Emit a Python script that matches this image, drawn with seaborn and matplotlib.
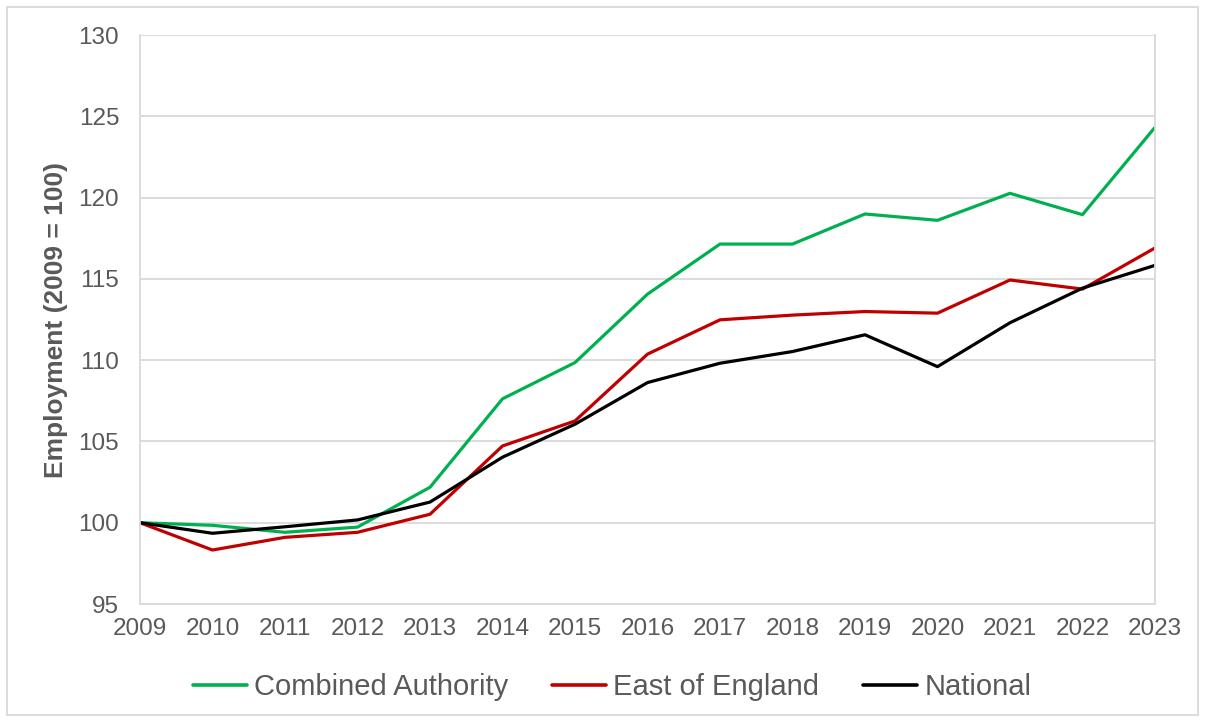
import matplotlib
matplotlib.use("Agg")
import matplotlib.pyplot as plt
import seaborn as sns
import pandas as pd
from matplotlib.patches import Rectangle
from matplotlib.lines import Line2D

years = list(range(2009, 2024))
combined_authority = [100.0, 99.84, 99.41, 99.73, 102.18, 107.62, 109.85, 114.06, 117.14, 117.14,
                      118.99, 118.6, 120.26, 118.95, 124.32]
east_of_england = [100.0, 98.32, 99.1, 99.41, 100.52, 104.72, 106.26, 110.37, 112.48, 112.77,
                   112.99, 112.89, 114.93, 114.37, 116.9]
national = [100.0, 99.35, 99.75, 100.17, 101.27, 104.03, 106.06, 108.62, 109.81, 110.53,
            111.56, 109.6, 112.3, 114.43, 115.83]
series_names = ["Combined Authority", "East of England", "National"]
colors = ["#00B050", "#C00000", "#000000"]

df = pd.DataFrame({
    "Year": years * 3,
    "Value": combined_authority + east_of_england + national,
    "Series": [series_names[0]] * 15 + [series_names[1]] * 15 + [series_names[2]] * 15,
})

sns.set_theme(style="white")
plt.rcParams['font.family'] = ['Liberation Sans', 'DejaVu Sans']
txt = "#595959"
grid = "#D9D9D9"

fig = plt.figure(figsize=(12.05, 7.22), dpi=100)
ax = fig.add_axes([140/1205, 1-604/722, (1155-140)/1205, (604-35)/722])

sns.lineplot(data=df, x="Year", y="Value", hue="Series", palette=dict(zip(series_names, colors)),
             linewidth=2.3, ax=ax, legend=False)

ax.set_xlim(2009, 2023)
ax.set_ylim(95, 130)
ax.set_yticks(range(95, 131, 5))
ax.set_xticks(years)
ax.set_xticklabels([str(y) for y in years])
ax.yaxis.grid(True, color=grid, linewidth=1.3)
ax.set_axisbelow(True)
for s in ["left", "right", "bottom"]:
    ax.spines[s].set_color(grid)
    ax.spines[s].set_linewidth(1.3)
ax.spines["top"].set_visible(False)
ax.tick_params(axis="both", length=0, labelsize=17.5, colors=txt)
ax.tick_params(axis="y", pad=15)
ax.tick_params(axis="x", pad=10)
ax.set_xlabel("")
ax.set_ylabel("Employment (2009 = 100)", fontsize=19, fontweight="bold", color=txt)
ax.yaxis.set_label_coords(-0.071, 0.5)

handles = [Line2D([0], [0], color=c, linewidth=2.6) for c in colors]
fig.legend(handles, series_names, loc="center", bbox_to_anchor=(0.508, 1-687/722), ncol=3,
           frameon=False, fontsize=21, labelcolor=txt, handlelength=1.85, handletextpad=0.25,
           columnspacing=1.5)

fig.patches.append(Rectangle((7/1205, 7/722), 1191/1205, 708/722, transform=fig.transFigure,
                             fill=False, edgecolor=grid, linewidth=1.3))

fig.savefig("out.png", dpi=100)
